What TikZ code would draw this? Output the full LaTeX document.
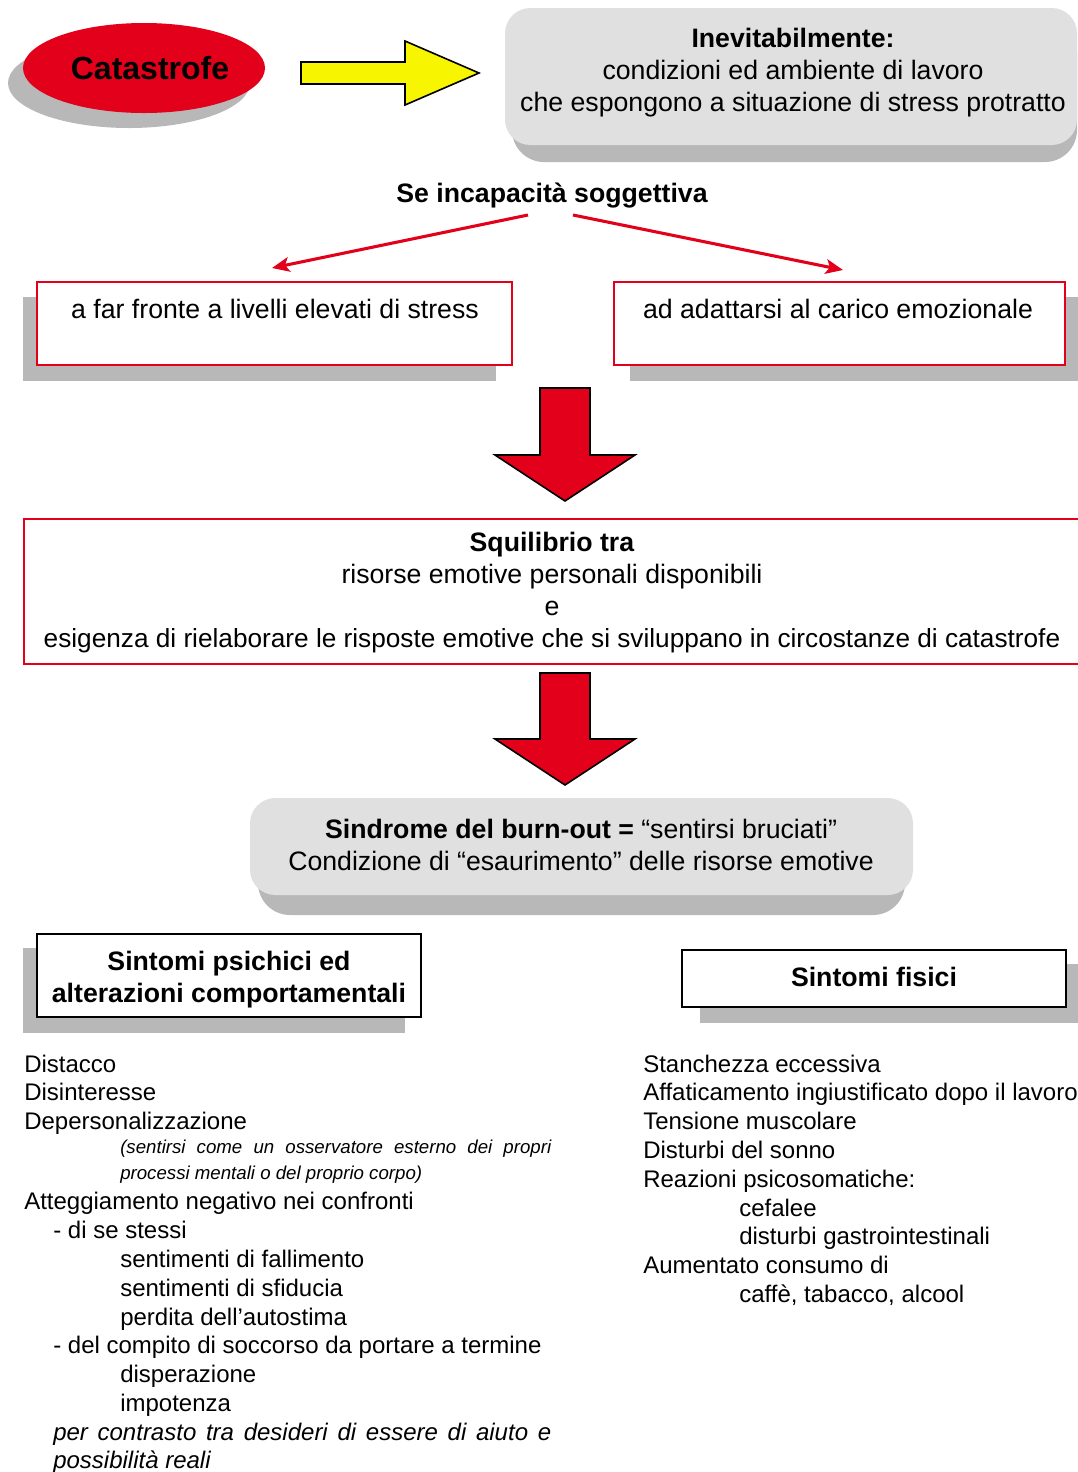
\documentclass[tikz,border=0pt]{standalone}
\usepackage{fontspec}
\setmainfont{Liberation Sans}
\usetikzlibrary{arrows.meta,shapes.geometric}
\definecolor{cred}{HTML}{E2001A}
\definecolor{shade}{HTML}{B8B8B8}
\definecolor{lightg}{HTML}{E0E0E0}
\definecolor{cyel}{HTML}{F7F500}
\tikzset{
  boxtxt/.style={font=\fontsize{20}{24}\selectfont, inner sep=0pt, align=center},
  lst/.style={font=\fontsize{18}{21.6}\selectfont, anchor=base west, inner sep=0pt},
  smallit/.style={font=\itshape\fontsize{14}{19.5}\selectfont, anchor=base west, inner sep=0pt},
  bigit/.style={font=\itshape\fontsize{18}{21.6}\selectfont, anchor=base west, inner sep=0pt},
  shadowbox/.style={fill=shade, draw=none, inner sep=0pt, outer sep=0pt},
  lightbox/.style={fill=lightg, draw=none, inner sep=0pt, outer sep=0pt, rounded corners=19pt},
  redframe/.style={draw=cred, fill=white, line width=0.8pt, inner sep=0pt, outer sep=0pt},
  blackframe/.style={draw=black, fill=white, line width=0.8pt, inner sep=0pt, outer sep=0pt},
  redarr/.style={draw=cred, line width=2.3pt, -{Stealth[length=13pt,width=11pt,inset=3pt]}},
  blockred/.style={fill=cred, draw=black, line width=1.2pt, line join=miter},
}
\begin{document}
\begin{tikzpicture}[x=0.75pt,y=-0.75pt]
\useasboundingbox (0,0) rectangle (1078,1472);

% Catastrofe
\node[ellipse, shadowbox, minimum width=181.5pt, minimum height=67.5pt] (catsh) at (129,83) {};
\node[ellipse, fill=cred, inner sep=0pt, minimum width=181.5pt, minimum height=67.5pt,
      font=\bfseries\fontsize{24}{28}\selectfont] (cat) at (144,68) {\hspace{9pt}Catastrofe};

% yellow block arrow
\draw[fill=cyel, draw=black, line width=1.2pt, line join=miter]
  (301,62) -- (405,62) -- (405,41) -- (479,73) -- (405,105) -- (405,84) -- (301,84) -- cycle;

% top 3D box
\node[shadowbox, rounded corners=24pt, minimum width=423.75pt, minimum height=106.5pt] (inevsh) at (794.5,91) {};
\node[lightbox, minimum width=429pt, minimum height=102.75pt] (inev) at (791,76.5) {};
\node[boxtxt] (inevt) at (793,72.5) {\textbf{Inevitabilmente:}\\condizioni ed ambiente di lavoro\\che espongono a situazione di stress protratto};

% Se incapacita
\node[boxtxt, font=\bfseries\fontsize{20}{24}\selectfont] (se) at (552,196) {Se incapacità soggettiva};

% left/right boxes
\node[shadowbox, minimum width=354.75pt, minimum height=63pt] (boxLsh) at (259.5,339) {};
\node[redframe, minimum width=356.25pt, minimum height=62.25pt] (boxL) at (274.5,323.5) {};
\node[boxtxt] (tL) at (275,309) {a far fronte a livelli elevati di stress};
\node[shadowbox, minimum width=336pt, minimum height=63pt] (boxRsh) at (854,339) {};
\node[redframe, minimum width=338.25pt, minimum height=62.25pt] (boxR) at (839.5,323.5) {};
\node[boxtxt] (tR) at (838,309) {ad adattarsi al carico emozionale};

\coordinate (sL) at (528,215);
\coordinate (eL) at (272,268);
\coordinate (sR) at (573,215);
\coordinate (eR) at (843,270);
\draw[redarr] (sL) -- (eL);
\draw[redarr] (sR) -- (eR);

% first red block arrow
\draw[blockred] (540,388) -- (590,388) -- (590,455) -- (635,455) -- (565,501) -- (495,455) -- (540,455) -- cycle;

% Squilibrio box
\node[redframe, minimum width=792pt, minimum height=108.75pt] (squ) at (552,591.5) {};
\node[boxtxt] (squt) at (552,593) {\textbf{Squilibrio tra}\\risorse emotive personali disponibili\\e\\{\fontsize{19.65}{24}\selectfont esigenza di rielaborare le risposte emotive che si sviluppano in circostanze di catastrofe}};

% second red block arrow
\draw[blockred] (540,673) -- (590,673) -- (590,739) -- (635,739) -- (565,785) -- (495,739) -- (540,739) -- cycle;

% Sindrome box
\node[shadowbox, rounded corners=24pt, minimum width=485.25pt, minimum height=78.75pt] (sinsh) at (581.5,862.5) {};
\node[lightbox, minimum width=497.25pt, minimum height=72.75pt] (sin) at (581.5,846.5) {};
\node[boxtxt] (sint) at (581,845) {\textbf{Sindrome del burn-out =} “sentirsi bruciati”\\Condizione di “esaurimento” delle risorse emotive};

% Sintomi psichici
\node[shadowbox, minimum width=286.5pt, minimum height=63.75pt] (psish) at (214,990.5) {};
\node[blackframe, minimum width=288pt, minimum height=62.25pt] (psi) at (229,975.5) {};
\node[boxtxt, font=\bfseries\fontsize{20}{24}\selectfont] (psit) at (229,980) {Sintomi psichici ed\\alterazioni comportamentali};

% Sintomi fisici
\node[shadowbox, minimum width=283.5pt, minimum height=44.25pt] (fish) at (889,993.5) {};
\node[blackframe, minimum width=288pt, minimum height=42.75pt] (fis) at (874,978.5) {};
\node[boxtxt, font=\bfseries\fontsize{20}{24}\selectfont] (fist) at (874,977) {Sintomi fisici};

% left list
\node[lst] (l1) at (24,1072) {Distacco};
\node[lst] (l2) at (24,1100) {Disinteresse};
\node[lst] (l3) at (24,1129) {Depersonalizzazione};
\node[smallit] (l4) at (120,1153) {\makebox[323.25pt][s]{(sentirsi come un osservatore esterno dei propri}};
\node[smallit] (l5) at (120,1179) {processi mentali o del proprio corpo)};
\node[lst] (l6) at (24,1209) {Atteggiamento negativo nei confronti};
\node[lst] (l7) at (53,1238) {- di se stessi};
\node[lst] (l8) at (120,1267) {sentimenti di fallimento};
\node[lst] (l9) at (120,1296) {sentimenti di sfiducia};
\node[lst] (l10) at (120,1325) {perdita dell’autostima};
\node[lst] (l11) at (53,1353) {- del compito di soccorso da portare a termine};
\node[lst] (l12) at (120,1382) {disperazione};
\node[lst] (l13) at (120,1411) {impotenza};
\node[bigit] (l14) at (53,1440) {\makebox[373.5pt][s]{per contrasto tra desideri di essere di aiuto e}};
\node[bigit] (l15) at (53,1468) {possibilità reali};

% right list
\node[lst] (r1) at (643,1072) {Stanchezza eccessiva};
\node[lst] (r2) at (643,1100) {Affaticamento ingiustificato dopo il lavoro};
\node[lst] (r3) at (643,1129) {Tensione muscolare};
\node[lst] (r4) at (643,1158) {Disturbi del sonno};
\node[lst] (r5) at (643,1187) {Reazioni psicosomatiche:};
\node[lst] (r6) at (739,1216) {cefalee};
\node[lst] (r7) at (739,1244) {disturbi gastrointestinali};
\node[lst] (r8) at (643,1273) {Aumentato consumo di};
\node[lst] (r9) at (739,1302) {caffè, tabacco, alcool};
\end{tikzpicture}
\end{document}
